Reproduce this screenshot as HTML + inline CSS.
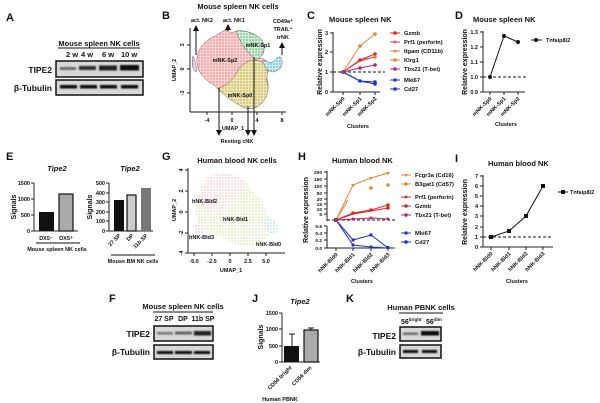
<!DOCTYPE html>
<html><head><meta charset="utf-8"><style>
html,body{margin:0;padding:0;background:#fff;width:600px;height:403px;overflow:hidden}
svg{display:block}
text{font-family:"Liberation Sans",Arial,sans-serif;font-weight:bold;fill:#111}
.pl{font-size:11px}
.t{font-size:7.5px}
.s{font-size:5.5px}
.ax{stroke:#222;stroke-width:1;fill:none}
</style></head><body>
<svg width="600" height="403" viewBox="0 0 600 403" xmlns="http://www.w3.org/2000/svg">
<defs>
<filter id="bl" x="-20%" y="-80%" width="140%" height="260%"><feGaussianBlur stdDeviation="0.9"/></filter>
<pattern id="pr" width="3" height="3" patternUnits="userSpaceOnUse"><rect width="3" height="3" fill="#f8d4d4"/><circle cx="1" cy="1" r="0.8" fill="#ec7c7c"/></pattern>
<pattern id="py" width="3" height="3" patternUnits="userSpaceOnUse"><rect width="3" height="3" fill="#efe6bb"/><circle cx="1" cy="1" r="0.8" fill="#bfac36"/></pattern>
<pattern id="pg" width="3" height="3" patternUnits="userSpaceOnUse"><rect width="3" height="3" fill="#d9f0dc"/><circle cx="1" cy="1" r="0.8" fill="#3fb052"/></pattern>
<pattern id="pc" width="3" height="3" patternUnits="userSpaceOnUse"><rect width="3" height="3" fill="#d3eef3"/><circle cx="1" cy="1" r="0.8" fill="#34aec4"/></pattern>
<pattern id="pp" width="3" height="3" patternUnits="userSpaceOnUse"><rect width="3" height="3" fill="#f2dff2"/><circle cx="1" cy="1" r="0.7" fill="#c47ec4"/></pattern>
<pattern id="hr" width="3" height="3" patternUnits="userSpaceOnUse"><rect width="3" height="3" fill="#fff"/><circle cx="1" cy="1" r="0.6" fill="#ee9a9a"/></pattern>
<pattern id="hy" width="3" height="3" patternUnits="userSpaceOnUse"><rect width="3" height="3" fill="#fff"/><circle cx="1" cy="1" r="0.6" fill="#bfcc66"/></pattern>
<pattern id="hc" width="3" height="3" patternUnits="userSpaceOnUse"><rect width="3" height="3" fill="#fff"/><circle cx="1" cy="1" r="0.6" fill="#6ac0d2"/></pattern>
<pattern id="hp" width="3" height="3" patternUnits="userSpaceOnUse"><rect width="3" height="3" fill="#fff"/><circle cx="1" cy="1" r="0.6" fill="#cc8ad0"/></pattern>
<marker id="ar" markerWidth="6" markerHeight="6" refX="3" refY="3" orient="auto"><path d="M0,0 L6,3 L0,6 z" fill="#111"/></marker>
</defs>

<!-- ===== A ===== -->
<text x="6" y="21" class="pl">A</text>
<text x="99" y="46" class="t" text-anchor="middle">Mouse spleen NK cells</text>
<line x1="58" y1="48" x2="140" y2="48" stroke="#111"/>
<text x="66" y="57" class="t">2 w</text><text x="81" y="57" class="t">4 w</text><text x="102" y="57" class="t">6 w</text><text x="121" y="57" class="t">10 w</text>
<text x="52" y="73" class="t" text-anchor="end" style="font-size:8.5px">TIPE2</text>
<text x="52" y="91" class="t" text-anchor="end" style="font-size:8.5px">β-Tubulin</text>
<rect x="56" y="61" width="87" height="16" fill="#d8d8d8" stroke="#111" stroke-width="1.5"/>
<rect x="56" y="80" width="87" height="15" fill="#d8d8d8" stroke="#111" stroke-width="1.5"/>
<g filter="url(#bl)" fill="#111">
<rect x="60" y="67" width="16" height="3" opacity="0.55"/><rect x="79" y="66" width="17" height="4" opacity="0.85"/><rect x="99" y="65.5" width="18" height="5" opacity="0.9"/><rect x="120" y="65" width="19" height="5.5" opacity="1"/>
<rect x="60" y="85" width="17" height="3.5"/><rect x="80" y="85" width="17" height="3.5"/><rect x="100" y="85" width="17" height="3.5"/><rect x="121" y="85" width="17" height="3.5"/>
</g>

<!-- ===== B ===== -->
<text x="162" y="19" class="pl">B</text>
<text x="238" y="9" class="t" text-anchor="middle">Mouse spleen NK cells</text>
<path d="M197,62 C196,50 205,40 215,36 L225,30 L232,33 L236,31 C245,30 255,33 262,40 C266,48 264,56 258,58 C268,58 272,66 266,76 C270,84 268,94 262,103 C255,110 248,110 241,106 C230,99 220,92 214,85 C205,80 197,72 197,62 z" fill="url(#pr)" stroke="#444" stroke-width="0.4"/>
<path d="M236,31 C245,30 255,33 262,40 C266,48 264,56 256,60 C250,55 240,44 236,31 z" fill="url(#pg)" stroke="#444" stroke-width="0.4"/>
<path d="M238,70 C245,60 255,58 262,62 C268,66 268,76 266,80 C270,88 268,96 262,103 C255,110 248,110 241,106 C232,101 222,94 218,88 C228,86 234,78 238,70 z" fill="url(#py)" stroke="#444" stroke-width="0.4"/>
<path d="M263,60 C268,62 272,64 275,60 C278,56 281,56 282,60 C283,66 280,70 274,72 C268,72 265,68 263,62 z" fill="url(#pc)" stroke="#444" stroke-width="0.4"/>
<path d="M193,56 C195,60 197,68 196,72 C193,71 191,64 193,56 z" fill="url(#pp)" stroke="#444" stroke-width="0.4"/>
<line x1="190" y1="28" x2="190" y2="112" class="ax"/><line x1="190" y1="112" x2="286" y2="112" class="ax"/>
<g class="ax"><line x1="207" y1="112" x2="207" y2="115"/><line x1="232" y1="112" x2="232" y2="115"/><line x1="257" y1="112" x2="257" y2="115"/><line x1="282" y1="112" x2="282" y2="115"/><line x1="187" y1="45" x2="190" y2="45"/><line x1="187" y1="69" x2="190" y2="69"/><line x1="187" y1="93" x2="190" y2="93"/></g>
<g class="s"><text x="207" y="122" text-anchor="middle">-4</text><text x="232" y="122" text-anchor="middle">0</text><text x="257" y="122" text-anchor="middle">4</text><text x="282" y="122" text-anchor="middle">8</text>
<text transform="translate(184,45) rotate(-90)" text-anchor="middle">3</text><text transform="translate(184,69) rotate(-90)" text-anchor="middle">0</text><text transform="translate(184,93) rotate(-90)" text-anchor="middle">-3</text>
<text transform="translate(176,70) rotate(-90)" text-anchor="middle">UMAP_2</text><text x="233" y="130" text-anchor="middle">UMAP_1</text>
<text x="225" y="62" text-anchor="middle">mNK-Sp2</text><text x="258" y="47" text-anchor="middle">mNK-Sp1</text><text x="240" y="97" text-anchor="middle">mNK-Sp0</text>
<text x="202" y="22" text-anchor="middle">act. NK2</text><text x="234" y="22" text-anchor="middle">act. NK1</text>
<text x="283" y="23" text-anchor="middle">CD49a⁺</text><text x="283" y="31" text-anchor="middle">TRAIL⁺</text><text x="283" y="39" text-anchor="middle">trNK</text>
<text x="237" y="143" text-anchor="middle">Resting cNK</text></g>
<g stroke="#111" stroke-width="1"><line x1="196" y1="55" x2="196" y2="28" marker-end="url(#ar)"/><line x1="228" y1="31" x2="228" y2="27" marker-end="url(#ar)"/><line x1="282" y1="55" x2="282" y2="45" marker-end="url(#ar)"/>
<line x1="219" y1="88" x2="219" y2="133" marker-end="url(#ar)"/><line x1="248" y1="106" x2="248" y2="133" marker-end="url(#ar)"/><line x1="254" y1="57" x2="254" y2="133" marker-end="url(#ar)"/></g>

<!-- ===== C ===== -->
<text x="307" y="19" class="pl">C</text>
<text x="329" y="22" class="t">Mouse spleen NK</text>
<line x1="333" y1="32" x2="333" y2="92" class="ax"/>
<g class="ax"><line x1="330" y1="33" x2="333" y2="33"/><line x1="330" y1="52" x2="333" y2="52"/><line x1="330" y1="72" x2="333" y2="72"/><line x1="330" y1="92" x2="333" y2="92"/><line x1="333" y1="92" x2="380" y2="92"/><line x1="343" y1="92" x2="343" y2="95"/><line x1="360" y1="92" x2="360" y2="95"/><line x1="375" y1="92" x2="375" y2="95"/></g>
<g class="s"><text x="328" y="35" text-anchor="end">3</text><text x="328" y="54" text-anchor="end">2</text><text x="328" y="74" text-anchor="end">1</text><text x="328" y="94" text-anchor="end">0</text></g>
<line x1="333" y1="72" x2="385" y2="72" stroke="#111" stroke-dasharray="3,2"/>
<g fill="none" stroke-width="1">
<polyline points="343,72 360,46 375,34" stroke="#e2873a"/>
<polyline points="343,72 360,60 375,57" stroke="#e2873a"/>
<polyline points="343,72 360,60 375,54" stroke="#d42a2a"/>
<polyline points="343,72 360,61 375,57" stroke="#d85060"/>
<polyline points="343,72 360,68 375,65" stroke="#b02a70"/>
<polyline points="343,72 360,81 375,82" stroke="#2030c0"/>
<polyline points="343,72 360,81 375,84" stroke="#2030c0"/>
</g>
<g><circle cx="360" cy="46" r="1.8" fill="#e2873a"/><circle cx="375" cy="34" r="1.8" fill="#e2873a"/><circle cx="360" cy="60" r="1.8" fill="#d42a2a"/><circle cx="375" cy="54" r="1.8" fill="#d42a2a"/><circle cx="375" cy="57" r="1.8" fill="#e2873a"/><circle cx="360" cy="68" r="1.8" fill="#b02a70"/><circle cx="375" cy="65" r="1.8" fill="#b02a70"/><circle cx="360" cy="81" r="1.8" fill="#2030c0"/><circle cx="375" cy="82" r="1.8" fill="#2030c0"/><circle cx="375" cy="84" r="1.8" fill="#2030c0"/><circle cx="343" cy="72" r="2" fill="#8a4080"/></g>
<g class="s">
<text transform="translate(345,99) rotate(-45)" text-anchor="end">mNK-Sp0</text><text transform="translate(362,99) rotate(-45)" text-anchor="end">mNK-Sp1</text><text transform="translate(377,99) rotate(-45)" text-anchor="end">mNK-Sp2</text>
<text x="358" y="128" text-anchor="middle">Clusters</text>
<text transform="translate(322,62) rotate(-90)" text-anchor="middle" style="font-size:7px">Relative expression</text>
</g>
<g class="s" style="font-size:5.8px">
<line x1="390" y1="33" x2="400" y2="33" stroke="#d42a2a"/><circle cx="395" cy="33" r="1.8" fill="#d42a2a"/><text x="404" y="35">Gzmb</text>
<line x1="390" y1="42" x2="400" y2="42" stroke="#d85060"/><path d="M395,40 l2,3 h-4z" fill="#d85060"/><text x="404" y="44">Prf1 (perforin)</text>
<line x1="390" y1="51" x2="400" y2="51" stroke="#e2873a"/><path d="M393,50 h4 l-2,3z" fill="#e2873a"/><text x="404" y="53">Itgam (CD11b)</text>
<line x1="390" y1="60" x2="400" y2="60" stroke="#e2873a"/><circle cx="395" cy="60" r="1.8" fill="#e2873a"/><text x="404" y="62">Klrg1</text>
<line x1="390" y1="69" x2="400" y2="69" stroke="#b02a70"/><circle cx="395" cy="69" r="1.8" fill="#b02a70"/><text x="404" y="71">Tbx21 (T-bet)</text>
<line x1="390" y1="80" x2="400" y2="80" stroke="#2030c0"/><rect x="393.5" y="78.5" width="3" height="3" fill="#2030c0"/><text x="404" y="82">Mki67</text>
<line x1="390" y1="89" x2="400" y2="89" stroke="#2030c0"/><circle cx="395" cy="89" r="1.8" fill="#2030c0"/><text x="404" y="91">Cd27</text>
</g>

<!-- ===== D ===== -->
<text x="455" y="19" class="pl">D</text>
<text x="473" y="22" class="t">Mouse spleen NK</text>
<g class="ax"><line x1="483" y1="31" x2="483" y2="92"/><line x1="483" y1="92" x2="525" y2="92"/>
<line x1="480" y1="32" x2="483" y2="32"/><line x1="480" y1="47" x2="483" y2="47"/><line x1="480" y1="62" x2="483" y2="62"/><line x1="480" y1="77" x2="483" y2="77"/><line x1="480" y1="92" x2="483" y2="92"/>
<line x1="490" y1="92" x2="490" y2="95"/><line x1="504" y1="92" x2="504" y2="95"/><line x1="518" y1="92" x2="518" y2="95"/></g>
<g class="s"><text x="478" y="34" text-anchor="end">1.3</text><text x="478" y="49" text-anchor="end">1.2</text><text x="478" y="64" text-anchor="end">1.1</text><text x="478" y="79" text-anchor="end">1.0</text><text x="478" y="94" text-anchor="end">0.9</text>
<text transform="translate(492,99) rotate(-45)" text-anchor="end">mNK-Sp0</text><text transform="translate(506,99) rotate(-45)" text-anchor="end">mNK-Sp1</text><text transform="translate(520,99) rotate(-45)" text-anchor="end">mNK-Sp2</text>
<text x="506" y="126" text-anchor="middle">Clusters</text>
<text transform="translate(467,62) rotate(-90)" text-anchor="middle" style="font-size:7px">Relative expression</text>
<text x="546" y="42">Tnfaip8l2</text></g>
<line x1="483" y1="77" x2="527" y2="77" stroke="#111" stroke-dasharray="3,2"/>
<polyline points="490,77 504,36 518,42" fill="none" stroke="#111"/>
<circle cx="490" cy="77" r="2" fill="#111"/><circle cx="504" cy="36" r="2" fill="#111"/><circle cx="518" cy="42" r="2" fill="#111"/>
<line x1="531" y1="40" x2="542" y2="40" stroke="#111"/><circle cx="536" cy="40" r="2" fill="#111"/>

<!-- ===== E ===== -->
<text x="6" y="160" class="pl">E</text>
<text x="57" y="171" class="t" text-anchor="middle" font-style="italic">Tipe2</text>
<text x="130" y="171" class="t" text-anchor="middle" font-style="italic">Tipe2</text>
<g class="ax"><line x1="34" y1="183" x2="34" y2="231"/><line x1="34" y1="231" x2="78" y2="231"/><line x1="31" y1="183" x2="34" y2="183"/><line x1="31" y1="199" x2="34" y2="199"/><line x1="31" y1="215" x2="34" y2="215"/><line x1="31" y1="231" x2="34" y2="231"/></g>
<g class="s"><text x="30" y="185" text-anchor="end">1500</text><text x="30" y="201" text-anchor="end">1000</text><text x="30" y="217" text-anchor="end">500</text><text x="30" y="233" text-anchor="end">0</text>
<text transform="translate(16,207) rotate(-90)" text-anchor="middle" style="font-size:7px">Signals</text>
<text x="46" y="240" text-anchor="middle">DX5⁻</text><text x="66" y="240" text-anchor="middle">DX5⁺</text>
<text x="57" y="251" text-anchor="middle">Mouse spleen NK cells</text></g>
<line x1="36" y1="243" x2="80" y2="243" stroke="#111"/>
<rect x="39" y="212" width="15" height="19" fill="#111"/>
<rect x="59" y="194" width="14" height="37" fill="#aaa" stroke="#111" stroke-width="1.2"/>
<g class="ax"><line x1="109" y1="183" x2="109" y2="231"/><line x1="109" y1="231" x2="153" y2="231"/><line x1="106" y1="183" x2="109" y2="183"/><line x1="106" y1="193" x2="109" y2="193"/><line x1="106" y1="202" x2="109" y2="202"/><line x1="106" y1="212" x2="109" y2="212"/><line x1="106" y1="221" x2="109" y2="221"/><line x1="106" y1="231" x2="109" y2="231"/></g>
<g class="s"><text x="105" y="185" text-anchor="end">500</text><text x="105" y="195" text-anchor="end">400</text><text x="105" y="204" text-anchor="end">300</text><text x="105" y="214" text-anchor="end">200</text><text x="105" y="223" text-anchor="end">100</text><text x="105" y="233" text-anchor="end">0</text>
<text transform="translate(92,207) rotate(-90)" text-anchor="middle" style="font-size:7px">Signals</text>
<text transform="translate(121,236) rotate(-45)" text-anchor="end">27 SP</text><text transform="translate(134,236) rotate(-45)" text-anchor="end">DP</text><text transform="translate(148,236) rotate(-45)" text-anchor="end">11b SP</text>
<text x="133" y="263" text-anchor="middle">Mouse BM NK cells</text></g>
<line x1="111" y1="255" x2="155" y2="255" stroke="#111"/>
<rect x="114" y="200" width="10" height="31" fill="#111"/>
<rect x="127" y="195" width="9" height="36" fill="#ccc" stroke="#111" stroke-width="1.2"/>
<rect x="141" y="188" width="10" height="43" fill="#777"/>

<!-- ===== G ===== -->
<text x="162" y="160" class="pl">G</text>
<text x="237" y="163" class="t" text-anchor="middle">Human blood NK cells</text>
<path d="M205,180 C215,170 240,172 248,185 C258,195 268,210 270,222 C274,232 266,240 258,244 C246,250 236,246 228,240 C218,236 208,232 200,226 C194,218 195,205 198,196 C200,190 202,184 205,180 z" fill="url(#hy)"/>
<path d="M205,180 C215,170 240,172 244,184 C240,196 230,206 220,212 C210,215 200,210 198,200 C199,192 202,186 205,180 z" fill="url(#hr)"/>
<path d="M263,218 C272,215 279,222 277,232 C272,236 264,232 262,225 z" fill="url(#hc)"/>
<path d="M193,224 C199,222 205,228 203,234 C198,236 193,231 193,224 z" fill="url(#hp)"/>
<g class="ax"><line x1="188" y1="168" x2="188" y2="253"/><line x1="188" y1="253" x2="285" y2="253"/>
<line x1="185" y1="170" x2="188" y2="170"/><line x1="185" y1="191" x2="188" y2="191"/><line x1="185" y1="212" x2="188" y2="212"/><line x1="185" y1="233" x2="188" y2="233"/><line x1="185" y1="253" x2="188" y2="253"/>
<line x1="194" y1="253" x2="194" y2="256"/><line x1="212" y1="253" x2="212" y2="256"/><line x1="230" y1="253" x2="230" y2="256"/><line x1="248" y1="253" x2="248" y2="256"/><line x1="266" y1="253" x2="266" y2="256"/></g>
<g class="s"><text transform="translate(183,170) rotate(-90)" text-anchor="middle">4</text><text transform="translate(183,191) rotate(-90)" text-anchor="middle">2</text><text transform="translate(183,212) rotate(-90)" text-anchor="middle">0</text><text transform="translate(183,233) rotate(-90)" text-anchor="middle">-2</text><text transform="translate(183,253) rotate(-90)" text-anchor="middle">-4</text>
<text x="194" y="263" text-anchor="middle">-5.0</text><text x="212" y="263" text-anchor="middle">-2.5</text><text x="230" y="263" text-anchor="middle">0</text><text x="248" y="263" text-anchor="middle">2.5</text><text x="266" y="263" text-anchor="middle">5.0</text>
<text x="231" y="272" text-anchor="middle">UMAP_1</text><text transform="translate(176,210) rotate(-90)" text-anchor="middle">UMAP_2</text>
<text x="192" y="203">hNK-Bld2</text><text x="223" y="221">hNK-Bld1</text><text x="189" y="239">hNK-Bld3</text><text x="256" y="246">hNK-Bld0</text></g>

<!-- ===== H ===== -->
<text x="298" y="160" class="pl">H</text>
<text x="332" y="163" class="t">Human blood NK</text>
<g class="ax"><line x1="327" y1="171" x2="327" y2="221"/><line x1="327" y1="226" x2="327" y2="248"/><line x1="327" y1="248" x2="395" y2="248"/>
<line x1="324" y1="172" x2="327" y2="172"/><line x1="324" y1="179" x2="327" y2="179"/><line x1="324" y1="186" x2="327" y2="186"/><line x1="324" y1="193" x2="327" y2="193"/><line x1="324" y1="199" x2="327" y2="199"/><line x1="324" y1="204" x2="327" y2="204"/><line x1="324" y1="209" x2="327" y2="209"/><line x1="324" y1="214" x2="327" y2="214"/>
<line x1="324" y1="226" x2="327" y2="226"/><line x1="324" y1="233" x2="327" y2="233"/><line x1="324" y1="240" x2="327" y2="240"/><line x1="324" y1="248" x2="327" y2="248"/>
<line x1="336" y1="248" x2="336" y2="251"/><line x1="353" y1="248" x2="353" y2="251"/><line x1="371" y1="248" x2="371" y2="251"/><line x1="388" y1="248" x2="388" y2="251"/></g>
<g class="s" style="font-size:4.8px"><text x="322" y="174" text-anchor="end">200</text><text x="322" y="181" text-anchor="end">150</text><text x="322" y="188" text-anchor="end">100</text><text x="322" y="195" text-anchor="end">50</text><text x="322" y="201" text-anchor="end">20</text><text x="322" y="206" text-anchor="end">15</text><text x="322" y="211" text-anchor="end">10</text><text x="322" y="216" text-anchor="end">5</text>
<text x="322" y="228" text-anchor="end">0.6</text><text x="322" y="235" text-anchor="end">0.4</text><text x="322" y="242" text-anchor="end">0.2</text><text x="322" y="250" text-anchor="end">0.0</text></g>
<line x1="327" y1="220" x2="395" y2="220" stroke="#111" stroke-dasharray="3,2"/>
<g fill="none" stroke-width="1">
<polyline points="336,220 353,185 371,178 388,173" stroke="#e2873a"/>
<polyline points="336,220 348,200 M359,193 371,188 388,185" stroke="#e2873a"/>
<polyline points="336,220 353,213 371,210 388,205" stroke="#d42a2a"/>
<polyline points="336,220 353,214 371,211 388,208" stroke="#d42a2a"/>
<polyline points="336,220 353,219 371,218 388,219" stroke="#b02a70"/>
<polyline points="336,220 353,240 371,235 388,248" stroke="#2030c0"/>
<polyline points="336,220 353,245 371,247 388,248" stroke="#2030c0"/>
</g>
<g><path d="M351,184 h4 l-2,3z" fill="#e2873a"/><path d="M369,177 h4 l-2,3z" fill="#e2873a"/><path d="M386,172 h4 l-2,3z" fill="#e2873a"/>
<circle cx="371" cy="188" r="1.8" fill="#e2873a"/><circle cx="388" cy="185" r="1.8" fill="#e2873a"/>
<circle cx="353" cy="213" r="1.8" fill="#d42a2a"/><circle cx="371" cy="210" r="1.8" fill="#d42a2a"/><circle cx="388" cy="205" r="1.8" fill="#d42a2a"/><circle cx="388" cy="208" r="1.8" fill="#d42a2a"/>
<circle cx="353" cy="219" r="1.5" fill="#b02a70"/><circle cx="371" cy="218" r="1.5" fill="#b02a70"/><circle cx="388" cy="219" r="1.5" fill="#b02a70"/><rect x="334" y="218" width="4" height="4" fill="#8a4080"/>
<rect x="351.5" y="238.5" width="3" height="3" fill="#2030c0"/><rect x="369.5" y="233.5" width="3" height="3" fill="#2030c0"/><rect x="386.5" y="246" width="3" height="3" fill="#2030c0"/>
<circle cx="353" cy="245" r="1.6" fill="#2030c0"/><circle cx="371" cy="247" r="1.6" fill="#2030c0"/></g>
<g class="s">
<text transform="translate(338,255) rotate(-45)" text-anchor="end">hNK-Bld0</text><text transform="translate(355,255) rotate(-45)" text-anchor="end">hNK-Bld1</text><text transform="translate(373,255) rotate(-45)" text-anchor="end">hNK-Bld2</text><text transform="translate(390,255) rotate(-45)" text-anchor="end">hNK-Bld3</text>
<text x="362" y="283" text-anchor="middle">Clusters</text>
<text transform="translate(308,210) rotate(-90)" text-anchor="middle" style="font-size:7px">Relative expression</text>
</g>
<g class="s" style="font-size:5.8px">
<line x1="401" y1="175" x2="411" y2="175" stroke="#e2873a"/><path d="M404,174 h4 l-2,3z" fill="#e2873a"/><text x="415" y="177">Fcgr3a (Cd16)</text>
<line x1="401" y1="184" x2="411" y2="184" stroke="#e2873a"/><circle cx="406" cy="184" r="1.8" fill="#e2873a"/><text x="415" y="186">B3gat1 (Cd57)</text>
<line x1="401" y1="197" x2="411" y2="197" stroke="#d42a2a"/><path d="M406,195 l2,3 h-4z" fill="#d42a2a"/><text x="415" y="199">Prf1 (perforin)</text>
<line x1="401" y1="206" x2="411" y2="206" stroke="#d42a2a"/><circle cx="406" cy="206" r="1.8" fill="#d42a2a"/><text x="415" y="208">Gzmb</text>
<line x1="401" y1="215" x2="411" y2="215" stroke="#b02a70"/><circle cx="406" cy="215" r="1.8" fill="#b02a70"/><text x="415" y="217">Tbx21 (T-bet)</text>
<line x1="401" y1="233" x2="411" y2="233" stroke="#2030c0"/><rect x="404.5" y="231.5" width="3" height="3" fill="#2030c0"/><text x="415" y="235">Mki67</text>
<line x1="401" y1="242" x2="411" y2="242" stroke="#2030c0"/><circle cx="406" cy="242" r="1.8" fill="#2030c0"/><text x="415" y="244">Cd27</text>
</g>

<!-- ===== I ===== -->
<text x="455" y="162" class="pl">I</text>
<text x="488" y="166" class="t">Human blood NK</text>
<g class="ax"><line x1="483" y1="175" x2="483" y2="247"/><line x1="483" y1="247" x2="553" y2="247"/>
<line x1="480" y1="176" x2="483" y2="176"/><line x1="480" y1="186" x2="483" y2="186"/><line x1="480" y1="196" x2="483" y2="196"/><line x1="480" y1="206" x2="483" y2="206"/><line x1="480" y1="216" x2="483" y2="216"/><line x1="480" y1="227" x2="483" y2="227"/><line x1="480" y1="237" x2="483" y2="237"/><line x1="480" y1="247" x2="483" y2="247"/>
<line x1="491" y1="247" x2="491" y2="250"/><line x1="509" y1="247" x2="509" y2="250"/><line x1="526" y1="247" x2="526" y2="250"/><line x1="543" y1="247" x2="543" y2="250"/></g>
<g class="s"><text x="478" y="178" text-anchor="end">7</text><text x="478" y="188" text-anchor="end">6</text><text x="478" y="198" text-anchor="end">5</text><text x="478" y="208" text-anchor="end">4</text><text x="478" y="218" text-anchor="end">3</text><text x="478" y="229" text-anchor="end">2</text><text x="478" y="239" text-anchor="end">1</text><text x="478" y="249" text-anchor="end">0</text>
<text transform="translate(493,254) rotate(-45)" text-anchor="end">hNK-Bld0</text><text transform="translate(511,254) rotate(-45)" text-anchor="end">hNK-Bld1</text><text transform="translate(528,254) rotate(-45)" text-anchor="end">hNK-Bld2</text><text transform="translate(545,254) rotate(-45)" text-anchor="end">hNK-Bld3</text>
<text x="517" y="283" text-anchor="middle">Clusters</text>
<text transform="translate(467,212) rotate(-90)" text-anchor="middle" style="font-size:7px">Relative expression</text>
<text x="570" y="194">Tnfaip8l2</text></g>
<line x1="483" y1="237" x2="553" y2="237" stroke="#111" stroke-dasharray="3,2"/>
<polyline points="491,237 509,231 526,216 543,186" fill="none" stroke="#111"/>
<g fill="#111"><rect x="489" y="235" width="4" height="4"/><rect x="507" y="229" width="4" height="4"/><rect x="524" y="214" width="4" height="4"/><rect x="541" y="184" width="4" height="4"/></g>
<line x1="558" y1="192" x2="568" y2="192" stroke="#111"/><rect x="561" y="190" width="4" height="4" fill="#111"/>

<!-- ===== F ===== -->
<text x="109" y="302" class="pl">F</text>
<text x="183" y="309" class="t" text-anchor="middle">Mouse spleen NK cells</text>
<line x1="153" y1="312" x2="213" y2="312" stroke="#111"/>
<text x="164" y="321" class="t" text-anchor="middle" style="font-size:7px">27 SP</text><text x="183" y="321" class="t" text-anchor="middle" style="font-size:7px">DP</text><text x="203" y="321" class="t" text-anchor="middle" style="font-size:7px">11b SP</text>
<text x="150" y="337" class="t" text-anchor="end" style="font-size:8.5px">TIPE2</text>
<text x="150" y="355" class="t" text-anchor="end" style="font-size:8.5px">β-Tubulin</text>
<rect x="154" y="326" width="59" height="15" fill="#d8d8d8" stroke="#111" stroke-width="1.5"/>
<rect x="154" y="345" width="59" height="14" fill="#d8d8d8" stroke="#111" stroke-width="1.5"/>
<g filter="url(#bl)" fill="#111"><rect x="157" y="332" width="16" height="2.5" opacity="0.5"/><rect x="175" y="331.5" width="17" height="3" opacity="0.6"/><rect x="194" y="331" width="17" height="4.5" opacity="0.9"/>
<rect x="157" y="351" width="16" height="3"/><rect x="175" y="351" width="17" height="3"/><rect x="194" y="351" width="16" height="3"/></g>

<!-- ===== J ===== -->
<text x="252" y="302" class="pl">J</text>
<text x="300" y="304" class="t" text-anchor="middle" font-style="italic">Tipe2</text>
<g class="ax"><line x1="282" y1="313" x2="282" y2="362"/><line x1="282" y1="362" x2="320" y2="362"/><line x1="279" y1="313" x2="282" y2="313"/><line x1="279" y1="329" x2="282" y2="329"/><line x1="279" y1="346" x2="282" y2="346"/><line x1="279" y1="362" x2="282" y2="362"/></g>
<g class="s"><text x="278" y="315" text-anchor="end">1500</text><text x="278" y="331" text-anchor="end">1000</text><text x="278" y="348" text-anchor="end">500</text><text x="278" y="364" text-anchor="end">0</text>
<text transform="translate(263,337) rotate(-90)" text-anchor="middle" style="font-size:7px">Signals</text>
<text transform="translate(292,368) rotate(-45)" text-anchor="end">CD56 bright</text><text transform="translate(312,368) rotate(-45)" text-anchor="end">CD56 dim</text>
<text x="280" y="401" text-anchor="middle">Human PBNK</text></g>
<line x1="292" y1="346" x2="292" y2="334" stroke="#111"/><line x1="289" y1="334" x2="295" y2="334" stroke="#111"/>
<rect x="284" y="346" width="15" height="16" fill="#111"/>
<line x1="311" y1="330" x2="311" y2="328" stroke="#111"/><line x1="308" y1="328" x2="314" y2="328" stroke="#111"/>
<rect x="304" y="330" width="14" height="32" fill="#aaa" stroke="#111" stroke-width="1.2"/>

<!-- ===== K ===== -->
<text x="346" y="302" class="pl">K</text>
<text x="421" y="310" class="t" text-anchor="middle">Human PBNK cells</text>
<line x1="399" y1="313" x2="443" y2="313" stroke="#111"/>
<text x="401" y="324" class="t" style="font-size:7px">56<tspan dy="-3" style="font-size:4.5px">bright</tspan></text><text x="426" y="324" class="t" style="font-size:7px">56<tspan dy="-3" style="font-size:4.5px">dim</tspan></text>
<text x="396" y="339" class="t" text-anchor="end" style="font-size:8.5px">TIPE2</text>
<text x="396" y="355" class="t" text-anchor="end" style="font-size:8.5px">β-Tubulin</text>
<rect x="400" y="327" width="41" height="14" fill="#d8d8d8" stroke="#111" stroke-width="1.5"/>
<rect x="400" y="345" width="41" height="13" fill="#d8d8d8" stroke="#111" stroke-width="1.5"/>
<g filter="url(#bl)" fill="#111"><rect x="403" y="332.5" width="15" height="2.5" opacity="0.55"/><rect x="421" y="331" width="18" height="4.5" opacity="1"/>
<rect x="403" y="350" width="15" height="3"/><rect x="422" y="350" width="15" height="3"/></g>
</svg>
</body></html>
